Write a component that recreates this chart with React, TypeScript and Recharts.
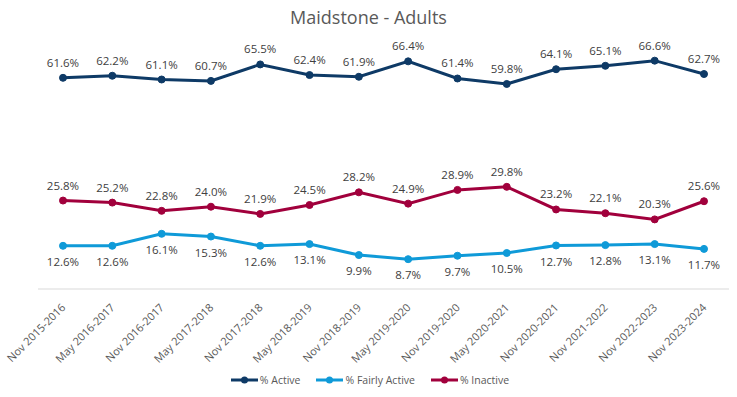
import { LabelList, Legend, Line, LineChart, XAxis, YAxis } from "recharts";

const periods = [
  "Nov 2015-2016",
  "May 2016-2017",
  "Nov 2016-2017",
  "May 2017-2018",
  "Nov 2017-2018",
  "May 2018-2019",
  "Nov 2018-2019",
  "May 2019-2020",
  "Nov 2019-2020",
  "May 2020-2021",
  "Nov 2020-2021",
  "Nov 2021-2022",
  "Nov 2022-2023",
  "Nov 2023-2024",
];

const active = [61.6, 62.2, 61.1, 60.7, 65.5, 62.4, 61.9, 66.4, 61.4, 59.8, 64.1, 65.1, 66.6, 62.7];
const fairlyActive = [12.6, 12.6, 16.1, 15.3, 12.6, 13.1, 9.9, 8.7, 9.7, 10.5, 12.7, 12.8, 13.1, 11.7];
const inactive = [25.8, 25.2, 22.8, 24.0, 21.9, 24.5, 28.2, 24.9, 28.9, 29.8, 23.2, 22.1, 20.3, 25.6];

const series = [
  { key: "active", name: "% Active", color: "#0e3a66", below: false },
  { key: "fairly", name: "% Fairly Active", color: "#0f9ad8", below: true },
  { key: "inactive", name: "% Inactive", color: "#a1003c", below: false },
];

const data = periods.map((period, i) => ({
  period,
  active: active[i],
  fairly: fairlyActive[i],
  inactive: inactive[i],
}));

const FONT = "'Open Sans', 'Noto Sans', sans-serif";

function AngledTick(props: any) {
  const { x, y, payload } = props;
  return (
    <g transform={`translate(${x},${y + 8})`}>
      <text
        transform="rotate(-45)"
        textAnchor="end"
        dominantBaseline="central"
        fontSize={11}
        fill="#595959"
        fontFamily={FONT}
      >
        {payload.value}
      </text>
    </g>
  );
}

function LegendContent() {
  return (
    <div
      style={{
        display: "flex",
        justifyContent: "center",
        gap: 15,
        fontFamily: FONT,
        fontSize: 10.5,
        color: "#595959",
        marginLeft: -28,
        paddingTop: 6,
      }}
    >
      {series.map((s) => (
        <div key={s.key} style={{ display: "flex", alignItems: "center" }}>
          <svg width={29} height={12} style={{ marginRight: 1 }}>
            <line x1={1} y1={6} x2={28} y2={6} stroke={s.color} strokeWidth={3} />
            <circle cx={14.5} cy={6} r={3.5} fill={s.color} />
          </svg>
          <span>{s.name}</span>
        </div>
      ))}
    </div>
  );
}

export default function App() {
  return (
    <div style={{ position: "relative", width: 737, height: 397, background: "#fff" }}>
      <style>{"body{margin:0}"}</style>
      <div
        style={{
          position: "absolute",
          top: 5,
          left: 0,
          width: 737,
          textAlign: "center",
          fontFamily: FONT,
          fontSize: 18,
          color: "#595959",
        }}
      >
        Maidstone - Adults
      </div>
      <LineChart
        width={737}
        height={397}
        data={data}
        margin={{ top: 49, right: 8, bottom: 0, left: 38 }}
      >
        <XAxis
          dataKey="period"
          height={78}
          interval={0}
          padding={{ left: 25, right: 25 }}
          tick={<AngledTick />}
          tickLine={false}
          axisLine={{ stroke: "#d9d9d9" }}
        />
        <YAxis hide domain={[0, 70]} />
        <Legend verticalAlign="bottom" height={30} content={<LegendContent />} />
        {series.map((s) => (
          <Line
            key={s.key}
            dataKey={s.key}
            name={s.name}
            stroke={s.color}
            strokeWidth={3}
            dot={{ r: 3.5, fill: s.color, stroke: s.color, strokeWidth: 1 }}
            isAnimationActive={false}
          >
            <LabelList
              dataKey={s.key}
              position={s.below ? "bottom" : "top"}
              offset={s.below ? 12 : 11}
              formatter={(v: any) => `${Number(v).toFixed(1)}%`}
              style={{ fontSize: 11.5, fill: "#404040", fontFamily: FONT }}
            />
          </Line>
        ))}
      </LineChart>
    </div>
  );
}
